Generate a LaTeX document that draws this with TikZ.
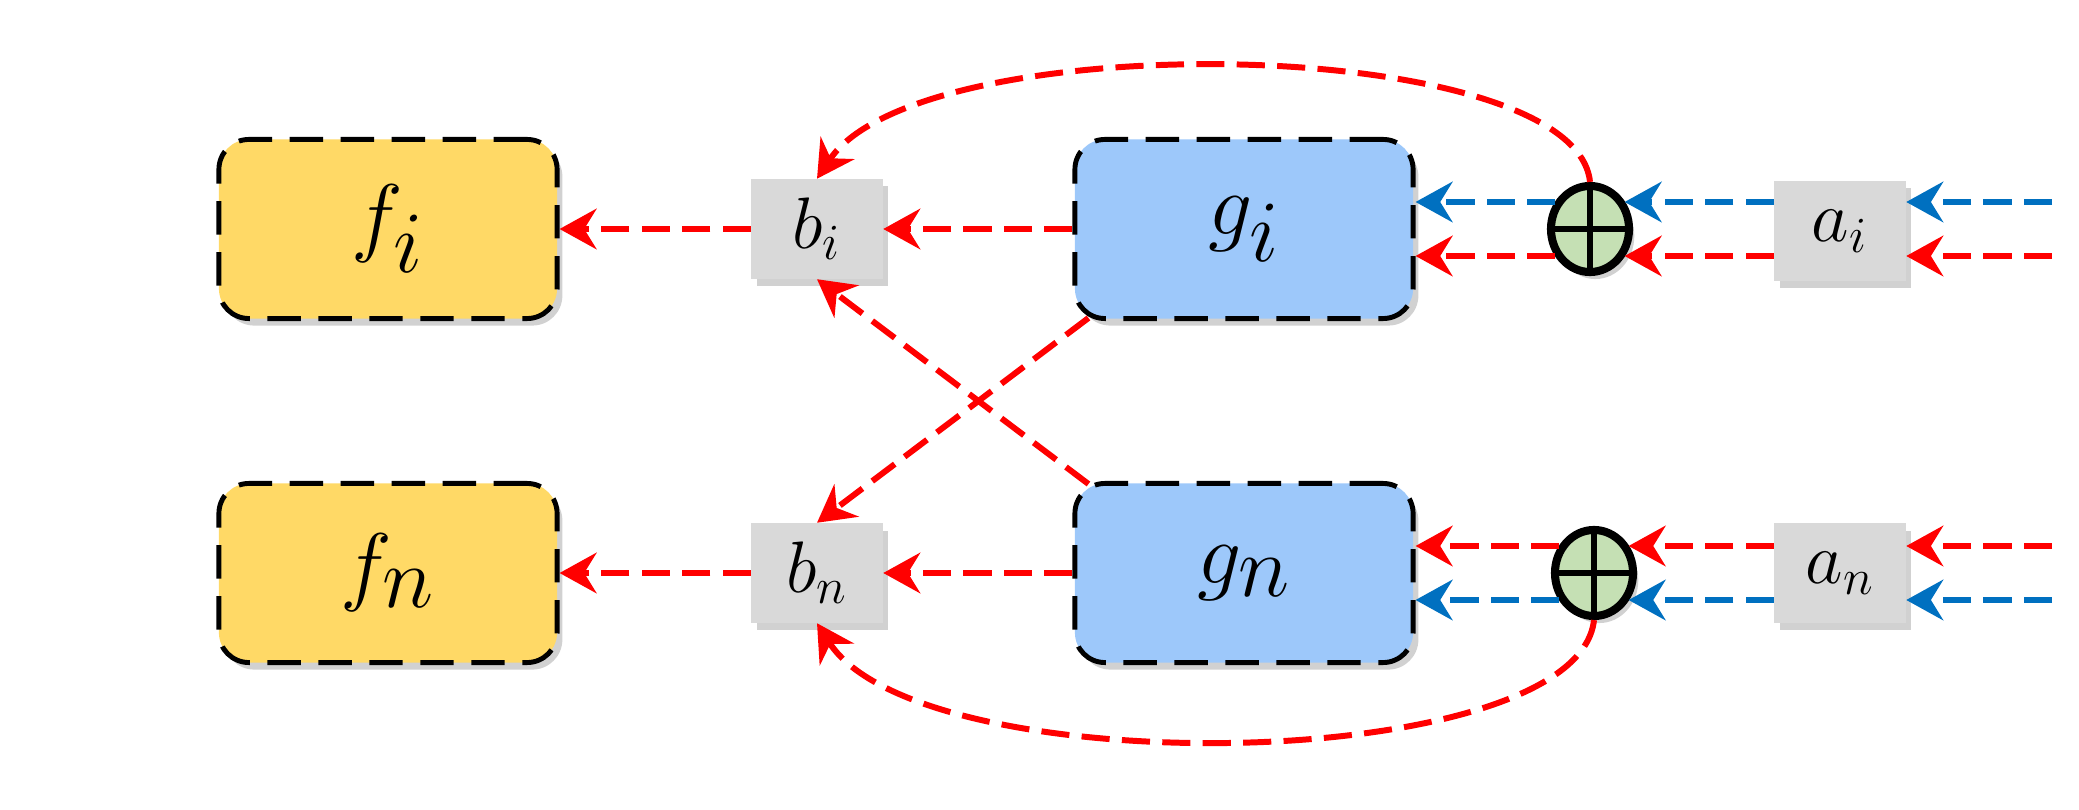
\documentclass[tikz,border=0pt]{standalone}
\usetikzlibrary{arrows.meta,shapes.geometric,shadows,calc}
\definecolor{fyel}{RGB}{255,217,102}
\definecolor{gblue}{RGB}{157,200,250}
\definecolor{bgray}{RGB}{217,217,217}
\definecolor{pgreen}{RGB}{197,224,180}
\definecolor{ablue}{RGB}{0,112,192}
\definecolor{ared}{RGB}{255,0,0}
\begin{document}
\begin{tikzpicture}[x=0.01cm,y=-0.01cm,
  shad/.style={drop shadow={shadow xshift=1.5pt,shadow yshift=-2pt,opacity=0.3,fill=black!60}},
  bigbox/.style={draw=black,line width=1.4pt,dash pattern=on 9.5pt off 5pt,rounded corners=0.3cm,
    minimum width=3.38cm,minimum height=1.79cm,inner sep=0pt,shad,font=\fontsize{33}{38}\selectfont},
  fbox/.style={bigbox,fill=fyel},
  gbox/.style={bigbox,fill=gblue},
  smallbox/.style={fill=bgray,minimum width=1.31cm,minimum height=0.99cm,inner sep=0pt,shad,
    font=\fontsize{20}{24}\selectfont},
  oplusnode/.style={ellipse,draw=black,line width=2.3pt,fill=pgreen,minimum width=0.78cm,
    minimum height=0.86cm,inner sep=0pt,shad},
  tip/.style={-{Stealth[length=10.5pt,width=11.5pt,inset=3.5pt]}},
  rarr/.style={draw=ared,line width=1.7pt,dash pattern=on 8pt off 3.5pt,tip},
  barr/.style={draw=ablue,line width=1.7pt,dash pattern=on 8pt off 3.5pt,tip}]
\useasboundingbox (0,0) rectangle (2079,810);
\node[fbox] (fi) at (388,229) {$f_i$};
\node[fbox] (fn) at (388,573) {$f_n$};
\node[smallbox] (bi) at (817,229) {$b_i$};
\node[smallbox] (bn) at (817,573) {$b_n$};
\node[gbox] (gi) at (1244,229) {$g_i$};
\node[gbox] (gn) at (1244,573) {$g_n$};
\node[oplusnode] (pi) at (1590,229) {};
\node[oplusnode] (pn) at (1594,573) {};
\draw[line width=1.6pt] (pi.north) -- (pi.south) (pi.west) -- (pi.east);
\draw[line width=1.6pt] (pn.north) -- (pn.south) (pn.west) -- (pn.east);
\node[smallbox] (ai) at (1840,231) {$a_i$};
\node[smallbox] (an) at (1840,573) {$a_n$};
\coordinate (ri1) at (2052,202);
\coordinate (ri2) at (2052,256);
\coordinate (rn1) at (2052,546);
\coordinate (rn2) at (2052,600);
% middle
\draw[rarr] (gi) -- (bi);
\draw[rarr] (bi) -- (fi);
\draw[rarr] (gn) -- (bn);
\draw[rarr] (bn) -- (fn);
\draw[rarr] ($(gi.south west)+(16,-3)$) -- (bn.north);
\draw[rarr] ($(gn.north west)+(16,3)$) -- (bi.south);
% curves
\draw[rarr] (pi.north) .. controls (1575,34) and (920,24) .. (bi.north);
\draw[rarr] (pn.south) .. controls (1577,775) and (920,785) .. (bn.south);
% top row inputs
\draw[barr] (ri1) -- (ai.east |- ri1);
\draw[barr] (ai.west |- ri1) -- (pi.39 |- ri1);
\draw[barr] (pi.141 |- ri1) -- (gi.east |- ri1);
\draw[rarr] (ri2) -- (ai.east |- ri2);
\draw[rarr] (ai.west |- ri2) -- (pi.-39 |- ri2);
\draw[rarr] (pi.219 |- ri2) -- (gi.east |- ri2);
% bottom row inputs
\draw[rarr] (rn1) -- (an.east |- rn1);
\draw[rarr] (an.west |- rn1) -- (pn.39 |- rn1);
\draw[rarr] (pn.141 |- rn1) -- (gn.east |- rn1);
\draw[barr] (rn2) -- (an.east |- rn2);
\draw[barr] (an.west |- rn2) -- (pn.-39 |- rn2);
\draw[barr] (pn.219 |- rn2) -- (gn.east |- rn2);
\end{tikzpicture}
\end{document}
